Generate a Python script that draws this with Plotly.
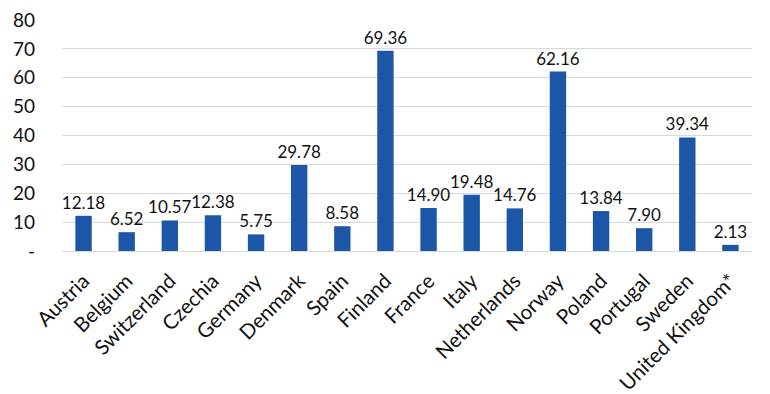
import plotly.graph_objects as go

countries = ["Austria", "Belgium", "Switzerland", "Czechia", "Germany", "Denmark", "Spain",
             "Finland", "France", "Italy", "Netherlands", "Norway", "Poland", "Portugal",
             "Sweden", "United Kingdom*"]
values = [12.18, 6.52, 10.57, 12.38, 5.75, 29.78, 8.58, 69.36, 14.90, 19.48, 14.76,
          62.16, 13.84, 7.90, 39.34, 2.13]
ytick_vals = [0, 10, 20, 30, 40, 50, 60, 70, 80]
ytick_text = ["-", "10", "20", "30", "40", "50", "60", "70", "80"]

FONT = "Lato, Open Sans, sans-serif"

fig = go.Figure(go.Bar(
    x=countries, y=values,
    marker=dict(color="#1c57a7", line=dict(width=0)),
    width=0.38,
    texttemplate="%{y:.2f}", textposition="outside",
    constraintext="none",
    textfont=dict(family=FONT, size=17, color="#111111"),
    cliponaxis=False,
))

fig.update_layout(
    width=762, height=386,
    margin=dict(l=54, r=18, t=12, b=143),
    paper_bgcolor="white", plot_bgcolor="white",
    showlegend=False,
    font=dict(family=FONT, size=17, color="#111111"),
)
fig.update_yaxes(range=[0, 80], tickvals=ytick_vals, ticktext=ytick_text,
                 showgrid=True, gridcolor="#d9d9d9", gridwidth=1,
                 zeroline=True, zerolinecolor="#d9d9d9", zerolinewidth=1,
                 showline=False, ticks="", ticklabelstandoff=26, automargin=False,
                 ticklabeloverflow="allow",
                 tickfont=dict(family=FONT, size=19, color="#111111"))
fig.update_xaxes(tickangle=-45, showline=False, ticks="", showgrid=False,
                 automargin=False, ticklabelstandoff=13, ticklabeloverflow="allow",
                 tickfont=dict(family=FONT, size=20.5, color="#111111"))

fig.write_html("out.html")
